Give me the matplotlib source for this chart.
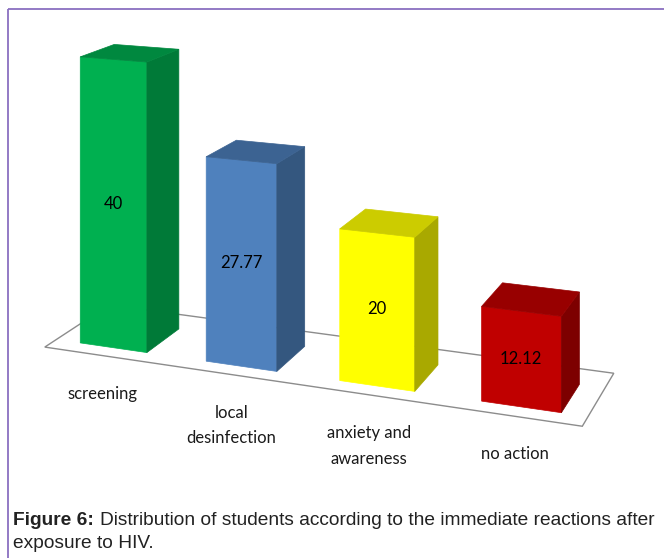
import numpy as np
import matplotlib.pyplot as plt
from matplotlib.patches import Polygon, Rectangle

# datos del grafico
categorias = ['screening', 'local\ndesinfection', 'anxiety and\nawareness', 'no action']
valores = [40, 27.77, 20, 12.12]
etiquetas = ['40', '27.77', '20', '12.12']
color_frente = ['#00b050', '#4f81bd', '#ffff00', '#c00000']
color_lado = ['#007a38', '#34577f', '#a9a900', '#7d0000']
color_arriba = ['#00883f', '#3c6392', '#cccc00', '#980000']

W, H = 664, 558

# camara en perspectiva (dos puntos de fuga)
F = 1745.0
CX, CY = 332.0, -280.0
ALTURA = 87.1
PHI = np.radians(21)
P0 = (-35.2, 244.0)
PASO = 19.4
ANCHO = 10.4
FONDO = 10.0


def proyectar(X, Y, Z):
    xc = P0[0] + X * np.cos(PHI) + Y * np.sin(PHI)
    zc = P0[1] - X * np.sin(PHI) + Y * np.cos(PHI)
    return CX + F * xc / zc, CY + F * (ALTURA - Z) / zc


def cara(ax, pts, color, z=2):
    xy = [proyectar(*p) for p in pts]
    ax.add_patch(Polygon(xy, closed=True, facecolor=color, edgecolor=color,
                         linewidth=0.5, zorder=z))


fig = plt.figure(figsize=(W / 100, H / 100), dpi=100)
ax = fig.add_axes([0, 0, 1, 1])
ax.set_xlim(0, W)
ax.set_ylim(H, 0)
ax.axis('off')

# marco morado
ax.add_patch(Rectangle((8, 9), W, H, fill=False, edgecolor='#8a70c0',
                       linewidth=1.3, zorder=1))

# piso
n = len(valores)
x0, x1 = -3.8, (n - 1) * PASO + ANCHO + 3.4
y0, y1 = -3.2, 15.5
piso = [proyectar(x, y, 0) for x, y in [(x0, y0), (x1, y0), (x1, y1), (x0, y1)]]
ax.add_patch(Polygon(piso, closed=True, facecolor='white', edgecolor='#8c8c8c',
                     linewidth=1.0, zorder=1.5))

for i, v in enumerate(valores):
    a = i * PASO
    b = a + ANCHO
    # frente
    cara(ax, [(a, 0, 0), (b, 0, 0), (b, 0, v), (a, 0, v)], color_frente[i], z=2 + i)
    # lado derecho
    cara(ax, [(b, 0, 0), (b, FONDO, 0), (b, FONDO, v), (b, 0, v)], color_lado[i], z=2 + i)
    # tapa
    cara(ax, [(a, 0, v), (b, 0, v), (b, FONDO, v), (a, FONDO, v)], color_arriba[i], z=2 + i)
    # valor
    tx, ty = proyectar(a + ANCHO / 2, 0, v / 2)
    ax.text(tx, ty, etiquetas[i], ha='center', va='center', fontsize=12,
            family='Lato', color='black', zorder=10)
    # categoria
    cx_, cy_ = proyectar(a + ANCHO / 2, y0, 0)
    ax.text(cx_, cy_ + 30, categorias[i], ha='center', va='top', fontsize=12,
            family='Lato', color='#1a1a1a', linespacing=1.75, zorder=10)

# leyenda de la figura
t1 = fig.text(13 / W, 1 - 525 / H, 'Figure 6:', fontsize=13.8, weight='bold',
              family='Liberation Sans', color='#222222', va='baseline')
fig.canvas.draw()
bb = t1.get_window_extent()
fig.text((bb.x1 + 6) / W, 1 - 525 / H,
         'Distribution of students according to the immediate reactions after',
         fontsize=13.8, family='Liberation Sans', color='#222222', va='baseline')
fig.text(13 / W, 1 - 548 / H, 'exposure to HIV.', fontsize=13.8,
         family='Liberation Sans', color='#222222', va='baseline')

fig.savefig('out.png', dpi=100)
